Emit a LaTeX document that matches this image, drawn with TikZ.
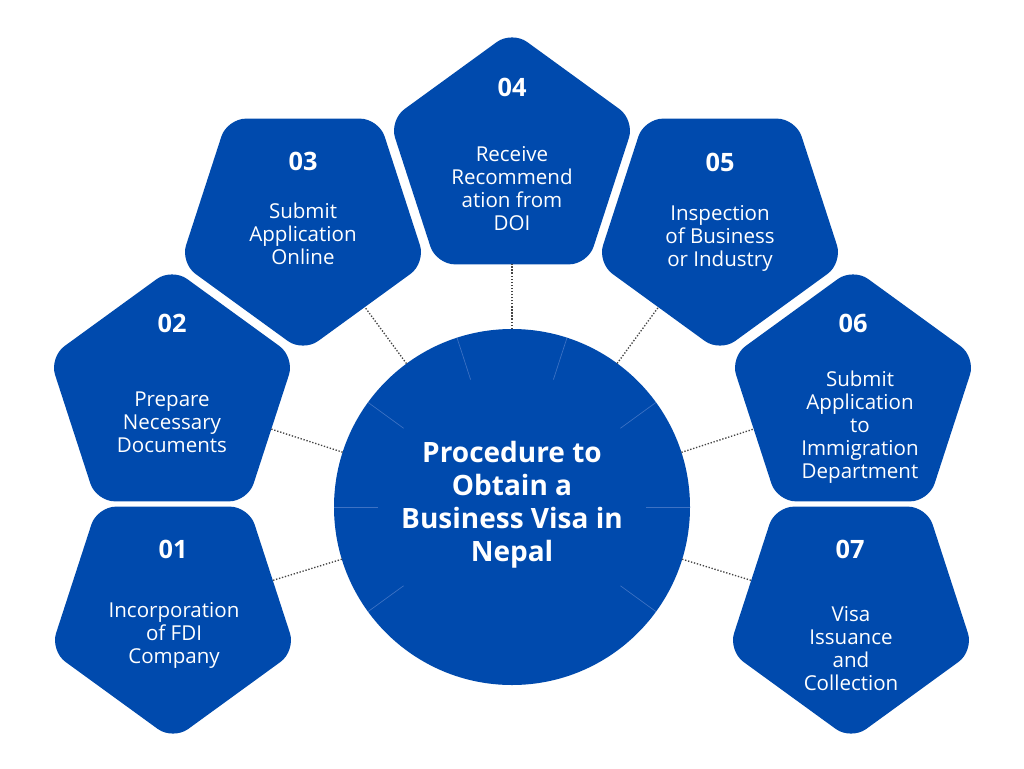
\documentclass[tikz,border=0pt]{standalone}
\usepackage{fontspec}
\setmainfont{Open Sans}
\usepackage{xcolor}
\usetikzlibrary{shapes.geometric, positioning}
\definecolor{visablue}{HTML}{004AAD}
\definecolor{segblue}{HTML}{3D72C4}
\definecolor{dotgray}{HTML}{444444}

\begin{document}
\begin{tikzpicture}[x=0.75pt, y=-0.75pt,
    stepbox/.style={regular polygon, regular polygon sides=5, minimum size=193.5pt,
      inner sep=0pt, outer sep=0pt, fill=visablue, rounded corners=14pt},
    stepnum/.style={text=white, font=\fontsize{19}{22}\selectfont\bfseries},
    steptext/.style={text=white, align=center, font=\fontsize{15.4}{17.25}\selectfont},
    link/.style={dotgray, line width=1pt, dash pattern=on 1pt off 1.3pt}]
    \useasboundingbox (0,0) rectangle (1024,768);
    \fill[white] (0,0) rectangle (1024,768);

    % centre
    \node[circle, fill=visablue, minimum size=267pt, inner sep=0pt, outer sep=0pt] (hub) at (512,507) {};
    \foreach \a in {0,36,72,108,144,180,216,324}
        \draw[segblue, line width=0.5pt] (hub.center) ++(-\a:134) -- ++(-\a:44);
    \node[text=white, align=center, font=\fontsize{21}{24.75}\selectfont\bfseries] (title) at (512,505) {Procedure to\\Obtain a\\Business Visa in\\Nepal};

    % steps
    \node[stepbox, shape border rotate=180] (s1) at (173,611) {};
    \node[stepbox] (s2) at (172,397) {};
    \node[stepbox, shape border rotate=180] (s3) at (303,223) {};
    \node[stepbox] (s4) at (512,160) {};
    \node[stepbox, shape border rotate=180] (s5) at (720,223) {};
    \node[stepbox] (s6) at (853,397) {};
    \node[stepbox, shape border rotate=180] (s7) at (851,611) {};

    \node[stepnum] (n1) at (173,549) {01};
    \node[stepnum] (n2) at (172,323) {02};
    \node[stepnum] (n3) at (303,161) {03};
    \node[stepnum] (n4) at (512,87) {04};
    \node[stepnum] (n5) at (720,162) {05};
    \node[stepnum] (n6) at (853,323) {06};
    \node[stepnum] (n7) at (850,549) {07};

    \node[steptext] (t1) at (174,635) {Incorporation\\of FDI\\Company};
    \node[steptext] (t2) at (172,422) {Prepare\\Necessary\\Documents};
    \node[steptext] (t3) at (303,234) {Submit\\Application\\Online};
    \node[steptext] (t4) at (512,189) {Receive\\Recommend\\ation from\\DOI};
    \node[steptext] (t5) at (720,238) {Inspection\\of Business\\or Industry};
    \node[steptext] (t6) at (860,427) {Submit\\Application\\to\\Immigration\\Department};
    \node[steptext] (t7) at (851,649) {Visa\\Issuance\\and\\Collection};

    \foreach \i in {1,...,7}
        \draw[link] (hub) -- (s\i);
\end{tikzpicture}
\end{document}
